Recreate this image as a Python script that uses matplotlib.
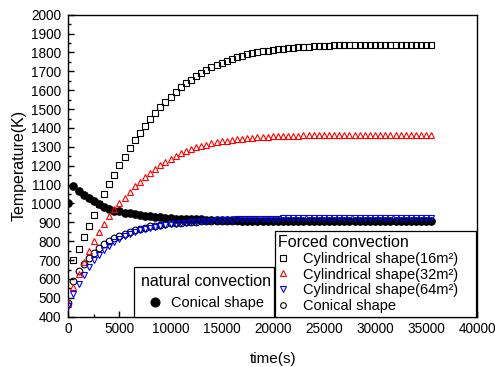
import numpy as np
import matplotlib
matplotlib.use('Agg')
import matplotlib.pyplot as plt
from matplotlib.ticker import MultipleLocator

plt.rcParams['font.family'] = ['Liberation Sans', 'DejaVu Sans']

nan = float('nan')
time_s = list(range(0, 36000, 500))  # sampling grid, 72 points (0 ... 35500 s)

# Forced convection, cylindrical shape 16 m^2 (open squares)
cyl16 = [nan, 700, 760, 820, 882, 940, 996, 1050, 1102, 1153,
         1202, 1248, 1292, 1334, 1374, 1410, 1446, 1479, 1511, 1540,
         1566, 1592, 1615, 1636, 1656, 1675, 1692, 1708, 1722, 1735,
         1746, 1757, 1766, 1775, 1783, 1790, 1796, 1801, 1806, 1810,
         1814, 1817, 1820, 1823, 1825, 1827, 1829, 1831, 1832, 1834,
         1835, 1836, 1837, 1838, 1839, 1839, 1840, 1840, 1841, 1841,
         1841, 1842, 1842, 1842, 1842, 1842, 1842, 1842, 1842, 1842,
         1842, 1842]

# Forced convection, cylindrical shape 32 m^2 (red up-triangles)
cyl32 = [470, 560, 625, 690, 748, 800, 850, 893, 932, 968,
         1000, 1030, 1060, 1090, 1115, 1140, 1163, 1183, 1202, 1220,
         1237, 1252, 1265, 1277, 1288, 1297, 1305, 1312, 1318, 1324,
         1329, 1333, 1337, 1340, 1343, 1346, 1348, 1350, 1352, 1353,
         1355, 1356, 1357, 1358, 1359, 1359, 1360, 1360, 1361, 1361,
         1361, 1362, 1362, 1362, 1362, 1362, 1362, 1362, 1362, 1362,
         1362, 1362, 1362, 1362, 1362, 1362, 1362, 1362, 1362, 1362,
         1362, 1362]

# Forced convection, cylindrical shape 64 m^2 (blue down-triangles)
cyl64 = [455, 520, 575, 622, 662, 698, 728, 754, 776, 795,
         812, 826, 838, 849, 858, 866, 872, 877, 882, 886,
         890, 893, 896, 899, 901, 903, 905, 907, 908, 910,
         911, 913, 914, 915, 916, 917, 918, 918, 919, 919,
         920, 920, 921, 921, 922, 922, 922, 923, 923, 923,
         923, 924, 924, 924, 924, 924, 924, 924, 924, 924,
         924, 924, 924, 924, 924, 924, 924, 924, 924, 924,
         924, 924]

# Forced convection, conical shape (open circles)
forced_conical = [470, 590, 640, 680, 712, 740, 764, 784, 801, 816,
                  829, 840, 850, 858, 866, 872, 878, 883, 887, 891,
                  894, 897, 899, 901, 903, 904, 905, 906, 907, 907,
                  908, 908, 908, 908, 908, 908, 908, 908, 908, 908,
                  908, 908, 908, 908, 908, 908, 908, 908, 908, 908,
                  908, 908, 908, 908, 908, 908, 908, 908, 908, 908,
                  908, 908, 908, 908, 908, 908, 908, 908, 908, 908,
                  908, 908]

# Natural convection, conical shape (filled circles)
natural_conical = [1000, 1090, 1068, 1047, 1028, 1011, 996, 983, 972, 962,
                   958, 952, 947, 942, 938, 934, 931, 928, 926, 924,
                   922, 920, 919, 918, 917, 916, 915, 914, 913, 912,
                   911, 911, 910, 910, 909, 909, 908, 908, 908, 908,
                   908, 908, 908, 908, 908, 908, 908, 908, 908, 908,
                   908, 908, 908, 908, 908, 908, 908, 908, 908, 908,
                   908, 908, 908, 908, 908, 908, 908, 908, 908, 908,
                   908, 908]

fig = plt.figure(figsize=(4.95, 3.67), dpi=100)
ax = fig.add_axes([68.3 / 495, 1 - 316.7 / 367, 409 / 495, 302 / 367])

h_nat, = ax.plot(time_s, natural_conical, 'o', color='black', ms=5.2, zorder=2)
h_sq, = ax.plot(time_s, cyl16, 's', mfc='none', mec='black', ms=4.3, mew=0.8, zorder=3)
h_up, = ax.plot(time_s, cyl32, '^', mfc='none', mec='red', ms=5.0, mew=0.8, zorder=3)
h_dn, = ax.plot(time_s, cyl64, 'v', mfc='none', mec='blue', ms=5.0, mew=0.8, zorder=3)
h_oc, = ax.plot(time_s, forced_conical, 'o', mfc='none', mec='black', ms=4.8, mew=0.8, zorder=2.5)

ax.set_xlim(0, 40000)
ax.set_ylim(400, 2000)
ax.xaxis.set_major_locator(MultipleLocator(5000))
ax.xaxis.set_minor_locator(MultipleLocator(2500))
ax.yaxis.set_major_locator(MultipleLocator(100))
ax.yaxis.set_minor_locator(MultipleLocator(50))
ax.tick_params(which='both', direction='in', top=False, right=False, labelsize=9.8, width=1.0)
ax.tick_params(which='major', length=4)
ax.tick_params(which='minor', length=2.5)
ax.tick_params(axis='x', pad=4)
ax.tick_params(axis='y', pad=5)
for s in ax.spines.values():
    s.set_linewidth(1.0)

ax.set_xlabel('time(s)', fontsize=11, labelpad=11)
ax.set_ylabel('Temperature(K)', fontsize=11.5, labelpad=3)

leg1 = ax.legend([h_nat], ['Conical shape'], title='natural convection',
                 loc='lower left', bbox_to_anchor=(0.161, 0.0, 0.342, 0.16), mode='expand',
                 borderaxespad=0, fontsize=10.5, title_fontsize=11.5, frameon=True,
                 fancybox=False, edgecolor='black', framealpha=1, alignment='left',
                 handlelength=2.0, handletextpad=0.1, borderpad=0.45, markerscale=1.2)
leg1.get_frame().set_linewidth(0.9)
ax.add_artist(leg1)

leg2 = ax.legend([h_sq, h_up, h_dn, h_oc],
                 ['Cylindrical shape(16m²)', 'Cylindrical shape(32m²)',
                  'Cylindrical shape(64m²)', 'Conical shape'],
                 title='Forced convection',
                 loc='lower left', bbox_to_anchor=(0.505, 0.0, 0.492, 0.28), mode='expand',
                 borderaxespad=0, fontsize=10.5, title_fontsize=11.5, frameon=True,
                 fancybox=False, edgecolor='black', framealpha=1, alignment='left',
                 handlelength=0.6, handletextpad=1.1, borderpad=0.25, labelspacing=0.12,
                 markerscale=0.85)
leg2.get_frame().set_linewidth(0.9)

fig.savefig('out.png', dpi=100)
